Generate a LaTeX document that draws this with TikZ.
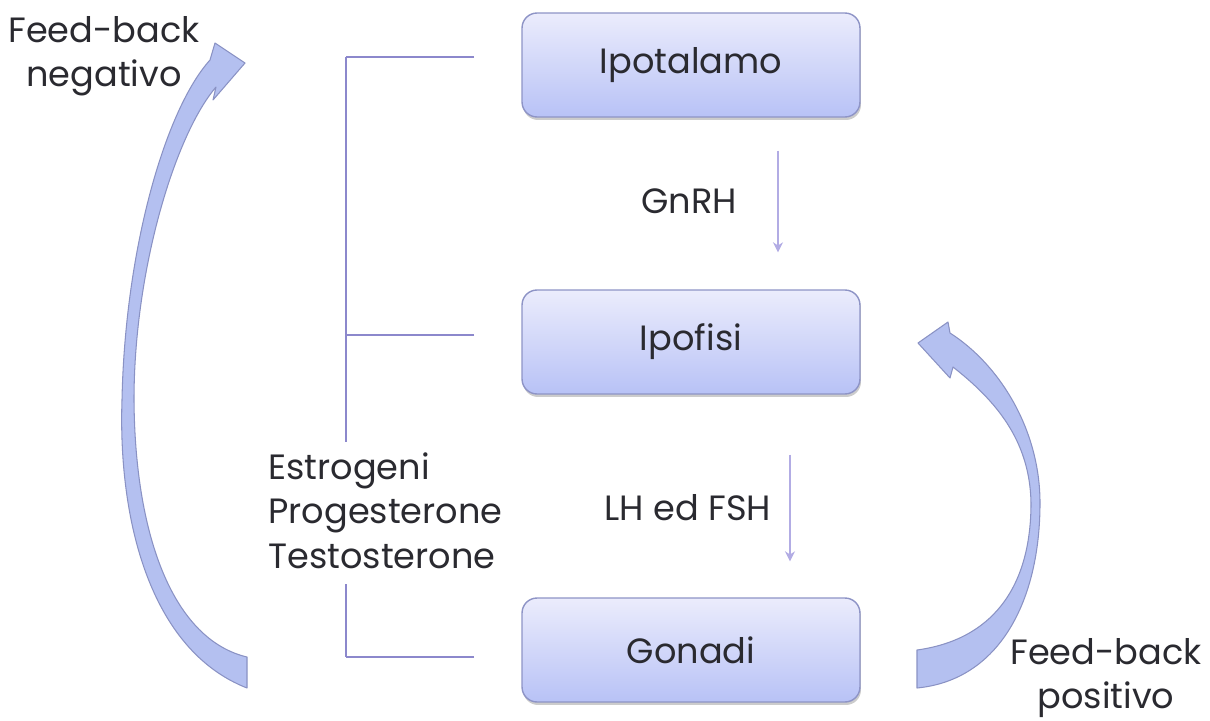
\documentclass[tikz,border=0pt]{standalone}
\usepackage{fontspec}
\setmainfont{Poppins}
\usetikzlibrary{arrows.meta,shadows,positioning}
\definecolor{boxtop}{HTML}{EBECFC}
\definecolor{boxbot}{HTML}{B8C2F6}
\definecolor{boxline}{HTML}{8E94C6}
\definecolor{brack}{HTML}{8C88CC}
\definecolor{hormline}{HTML}{B2ACE4}
\definecolor{fbfill}{HTML}{B4C0F0}
\definecolor{fbline}{HTML}{8A92C4}
\definecolor{txt}{HTML}{2A2A30}
\begin{document}
\begin{tikzpicture}[x=0.02cm, y=-0.02cm, >=latex,
		label/.style={text=txt, inner sep=0pt, font=\fontsize{20}{25}\selectfont},
		organ/.style={label, draw=boxline, line width=0.8pt, rounded corners=0.3cm,
			top color=boxtop, bottom color=boxbot, minimum width=6.76cm, minimum height=2.08cm,
			drop shadow={shadow xshift=0.02cm, shadow yshift=-0.06cm, fill=black, opacity=0.2}},
		bracket/.style={draw=brack, line width=1.6pt},
		hormone/.style={->, draw=hormline, line width=1.2pt, >={Stealth[length=0.2cm, width=0.2cm]}},
		feedback/.style={fill=fbfill, draw=fbline, line width=0.6pt, line join=round}
	]
	\useasboundingbox (0,0) rectangle (1210,720);

	% organi
	\node[organ] (hypo) at (691,65) {Ipotalamo};
	\node[organ] (pit) at (691,342) {Ipofisi};
	\node[organ] (gon) at (691,650) {Gonadi};

	% ormoni
	\draw[hormone] ([shift={(87,33)}]hypo.south) -- ([shift={(87,-37)}]pit.north)
		node[label, midway, left=0.8cm] (gnrh) {GnRH};
	\draw[hormone] ([shift={(99,60)}]pit.south) -- ([shift={(99,-36)}]gon.north)
		node[label, midway, left=0.36cm] (lhfsh) {LH ed FSH};

	% steroidi
	\node[label, align=left, anchor=north west, font=\fontsize{20}{25.5}\selectfont] (horm) at (268,452)
		{Estrogeni\\Progesterone\\Testosterone};
	\coordinate (b0) at (346,57);
	\foreach \n/\y in {1/57, 2/335, 3/657} {
			\coordinate (b\n) at (474,\y);
			\draw[bracket] (b\n) -- (b\n -| b0);
		}
	\draw[bracket] (b0) -- ([yshift=0.2cm]horm.north -| b0);
	\draw[bracket] ([yshift=-0.3cm]horm.south -| b0) -- (b3 -| b0);

	% feed-back
	\draw[feedback] (247,688) .. controls (150,650) and (118,520) .. (122,400)
		.. controls (125,250) and (165,110) .. (210,60)
		-- (215,43) -- (245,63) -- (213,100) -- (216,87)
		.. controls (175,135) and (134,270) .. (134,400)
		.. controls (135,540) and (175,640) .. (247,657) -- cycle;
	\draw[feedback] (917,688) .. controls (1000,680) and (1040,600) .. (1040,503)
		.. controls (1040,430) and (1000,365) .. (950,333)
		-- (948,322) -- (918,343) -- (950,378) -- (953,367)
		.. controls (995,400) and (1030,440) .. (1031,503)
		.. controls (1031,590) and (990,640) .. (917,650) -- cycle;
	\node[label, align=center] (neg) at (104,56) {Feed-back\\negativo};
	\node[label, align=center, anchor=south] (pos) at (1106,718) {Feed-back\\positivo};
\end{tikzpicture}
\end{document}
